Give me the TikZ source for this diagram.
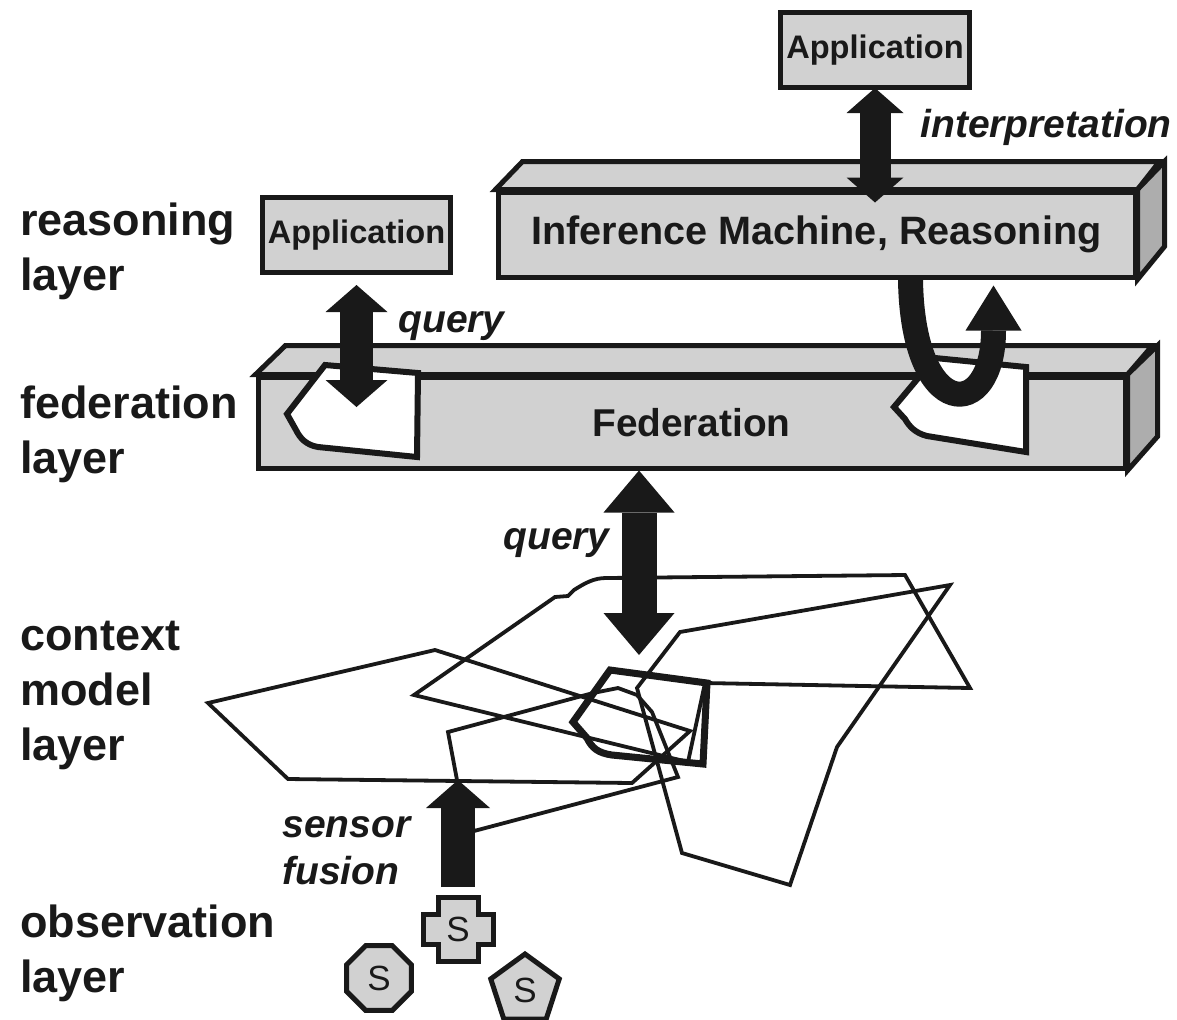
\documentclass[tikz,border=0pt]{standalone}
\usepackage{fontspec}
\setmainfont{Liberation Sans}
\usetikzlibrary{arrows.meta, calc, shapes.geometric}
\definecolor{mainBlack}{gray}{0.1}
\definecolor{boxGray}{gray}{0.82}
\definecolor{sideGray}{gray}{0.68}

\begin{document}
\begin{tikzpicture}[x=0.5pt, y=-0.5pt, line join=miter,
    box/.style={draw=mainBlack, line width=2.5pt, fill=boxGray, inner sep=0pt, text=mainBlack},
    face/.style={draw=mainBlack, line width=2.5pt, fill=boxGray},
    side/.style={draw=mainBlack, line width=2.5pt, fill=sideGray},
    layer/.style={anchor=base west, align=left, inner sep=0pt, text=mainBlack, font=\bfseries\fontsize{22.5}{27.5}\selectfont},
    note/.style={anchor=base west, align=left, inner sep=0pt, text=mainBlack, font=\bfseries\itshape\fontsize{19.5}{23.5}\selectfont},
    region/.style={draw=mainBlack, line width=1.9pt},
    cutout/.style={draw=mainBlack, line width=3pt, fill=white},
    sensor/.style={draw=mainBlack, line width=2.5pt, fill=boxGray, inner sep=0pt, text=mainBlack, font=\fontsize{17.5}{19}\selectfont},
    blockarrow/.style={draw=mainBlack}]
    \useasboundingbox (0,0) rectangle (1177,1019);

    % Layer names (anchored on the last line)
    \node[layer] (lreason) at (20,290) {reasoning\\layer};
    \node[layer] (lfed) at (20,473) {federation\\layer};
    \node[layer] (lcontext) at (20,760) {context\\model\\layer};
    \node[layer] (lobs) at (20,992) {observation\\layer};

    % Context model
    \draw[region] (208,703) -- (435,650) -- (690,731) -- (632,783) -- (288,779) -- cycle;
    \draw[region] (414,695) -- (555,597) -- (568,596) -- (574,590) .. controls (585,583) and (594,578) .. (606,578)
        -- (905,575) -- (970,688) -- (705,683) -- (688,762) -- cycle;
    \draw[region] (448,732) -- (593,693) -- (618,688) -- (637,695) -- (652,712) -- (678,777) -- (474,831) -- (457,780) -- cycle;
    \draw[region] (680,632) -- (950,585) -- (837,747) -- (790,885) -- (682,853) -- (637,688) -- cycle;
    \draw[mainBlack, line width=3.5pt] (610,670) -- (707,683) -- (703,764) -- (612,755)
        .. controls (598,753) and (592,748) .. (587,738) -- (573,722) -- cycle;

    % Federation
    \node[box, minimum width=433.5pt, minimum height=45.5pt, font=\bfseries\fontsize{19.4}{22}\selectfont] (fed) at (691.5,422.5) {Federation};
    \draw[face] (fed.north west) -- ++(30,-29) -- ++(867,0) -- (fed.north east) -- cycle;
    \draw[side] (fed.north east) -- ++(30,-29) -- ++(0,91) -- (fed.south east) -- cycle;
    \draw[cutout] (325,365) -- (418,373) -- (417,457) -- (318,447) .. controls (306,445) and (300,438) .. (296,430) -- (287,414) -- cycle;
    \draw[cutout] (935,358) -- (1026,367) -- (1026,452) -- (927,436) .. controls (915,433) and (909,426) .. (905,419) -- (894,407) -- cycle;

    % Inference machine
    \node[box, minimum width=318.5pt, minimum height=42.5pt, font=\bfseries\fontsize{19.8}{22}\selectfont] (inf) at (816.5,234.5) {Inference Machine, Reasoning};
    \draw[face] (inf.north west) -- ++(27,-28) -- ++(637,0) -- (inf.north east) -- cycle;
    \draw[side] (inf.north east) -- ++(27,-28) -- ++(0,85) -- (inf.south east) -- cycle;

    % Applications
    \node[box, minimum width=94.5pt, minimum height=37.5pt, font=\bfseries\fontsize{16.3}{18}\selectfont] (app1) at (875,50) {Application};
    \node[box, minimum width=94pt, minimum height=37.5pt, font=\bfseries\fontsize{16.3}{18}\selectfont] (app2) at (356.5,235) {Application};

    % Arrows
    \draw[blockarrow, line width=15.5pt, {Triangle[width=28.5pt, length=12.5pt, line width=0pt]}-{Triangle[width=28.5pt, length=12.5pt, line width=0pt]}]
        ($(app1.south)+(0,-2)$) -- ($(inf.north -| app1.south)+(0,13)$);
    \node[note] (interp) at (920,137) {interpretation};
    \draw[blockarrow, line width=16.5pt, {Triangle[width=31pt, length=13.5pt, line width=0pt]}-{Triangle[width=31pt, length=13.5pt, line width=0pt]}]
        ($(app2.south)+(0,10)$) -- ($(app2.south)+(0,132)$);
    \node[note] (query1) at (398,332) {query};
    \draw[blockarrow, line width=12.5pt, -{Triangle[width=28pt, length=22.5pt, line width=0pt]}]
        ($(inf.south west)+(415,0)$) .. controls +(2,143) and +(0,137) .. ($(inf.south west)+(498,6)$);
    \coordinate (cm) at (639,655);
    \draw[blockarrow, line width=17.5pt, {Triangle[width=35.5pt, length=21pt, line width=0pt]}-{Triangle[width=35.5pt, length=21pt, line width=0pt]}]
        (fed.south -| cm) -- (cm);
    \node[note] (query2) at (503,549) {query};

    % Sensors
    \coordinate (cross) at (458,929);
    \draw[sensor] ($(cross)+(-20,-32)$) -- ++(40,0) -- ++(0,17) -- ++(15,0) -- ++(0,30) -- ++(-15,0) -- ++(0,17)
        -- ++(-40,0) -- ++(0,-17) -- ++(-15,0) -- ++(0,-30) -- ++(15,0) -- cycle;
    \node[sensor, draw=none, fill=none] (s1) at (cross) {S};
    \node[sensor, regular polygon, regular polygon sides=8, minimum size=35pt] (s2) at (379,978) {S};
    \node[sensor, regular polygon, regular polygon sides=5, minimum size=36pt] (s3) at (525,990) {S};
    \coordinate (fusion) at (458,780);
    \draw[blockarrow, line width=17pt, -{Triangle[width=32pt, length=14pt, line width=0pt]}]
        ($(cross)+(0,-42)$) -- (fusion);
    \node[note] (sfusion) at (282,884) {sensor\\fusion};
\end{tikzpicture}
\end{document}
